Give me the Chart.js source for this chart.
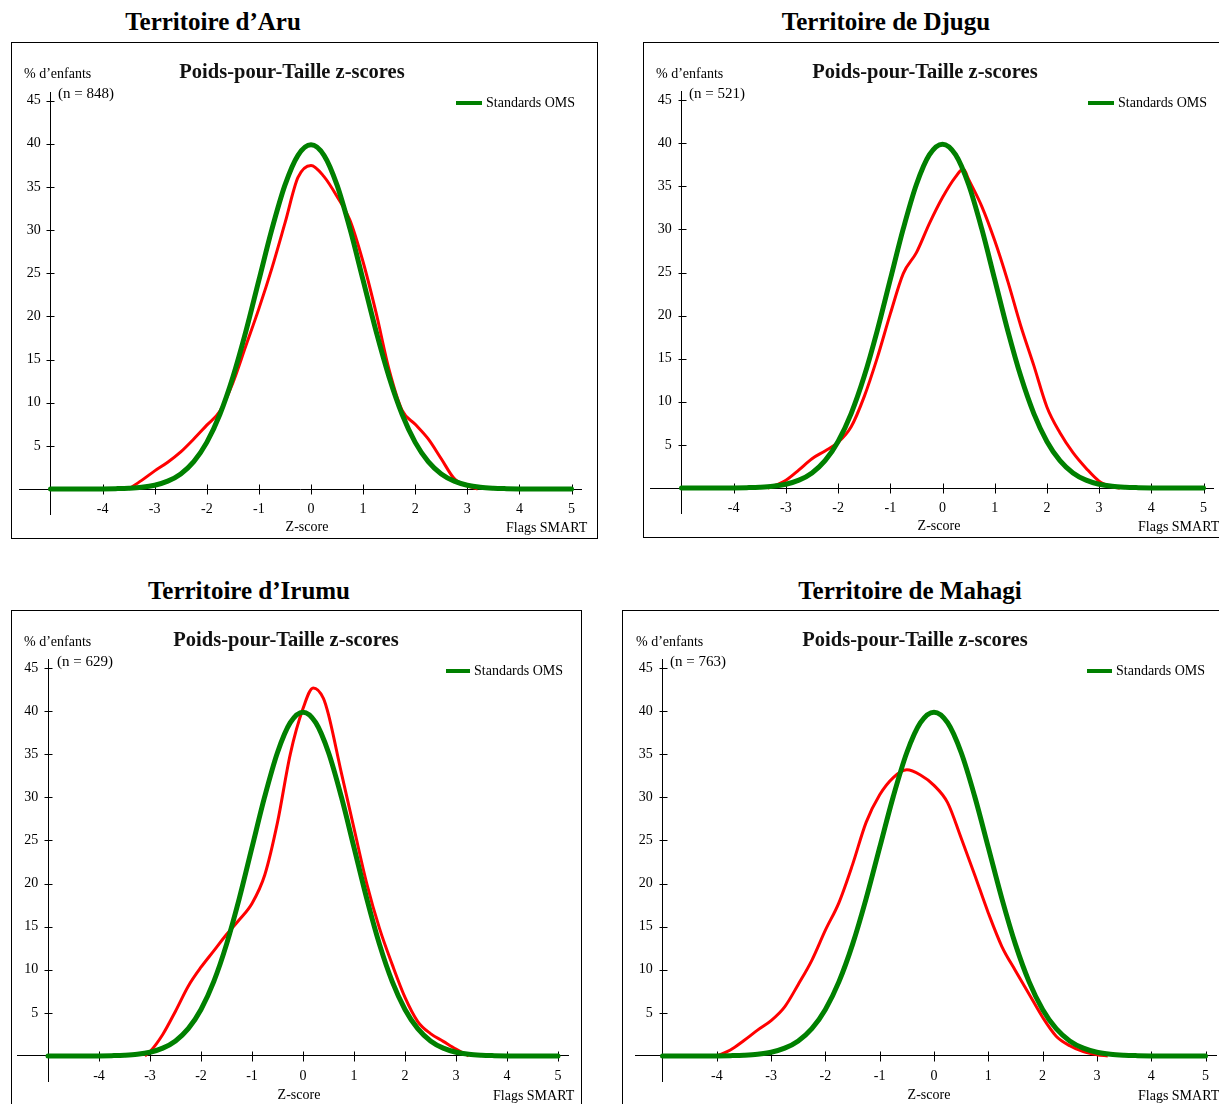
<!DOCTYPE html>
<html>
<head>
<meta charset="utf-8">
<script src="https://cdn.jsdelivr.net/npm/chart.js@4.4.0/dist/chart.umd.min.js"></script>
<style>
  body { margin: 0; width: 1219px; height: 1104px; overflow: hidden; background: #fff; position: relative; font-family: "Liberation Serif", "Times New Roman", serif; color: #000; }
  .t { position: absolute; white-space: nowrap; }
  .ptitle { font-weight: bold; font-size: 25px; line-height: 30px; height: 30px; width: 400px; text-align: center; }
  .panel { position: absolute; border: 1px solid #000; box-sizing: border-box; overflow: hidden; background: #fff; }
  .panel canvas { position: absolute; left: 0; top: 0; }
  .ctitle { font-weight: bold; font-size: 20.5px; line-height: 24px; width: 300px; text-align: center; color: #111; }
  .lbl { font-size: 14px; line-height: 20px; }
  .n { font-size: 15px; line-height: 20px; }
  .leg { position: absolute; height: 4px; background: #008000; }
</style>
</head>
<body>
<script>
// ---- data ----
const territories = ['Territoire d\u2019Aru', 'Territoire de Djugu', 'Territoire d\u2019Irumu', 'Territoire de Mahagi'];
const sampleSizes = [848, 521, 629, 763];

const xTicks = [-4, -3, -2, -1, 0, 1, 2, 3, 4, 5];
const yTicks = [5, 10, 15, 20, 25, 30, 35, 40, 45];

// WHO standard curve (% of children per z-score)
const stdZ = [-5, -4.75, -4.5, -4.25, -4, -3.75, -3.5, -3.25, -3, -2.75, -2.5, -2.25, -2, -1.75, -1.5, -1.25, -1, -0.75, -0.5, -0.25,
  0, 0.25, 0.5, 0.75, 1, 1.25, 1.5, 1.75, 2, 2.25, 2.5, 2.75, 3, 3.25, 3.5, 3.75, 4, 4.25, 4.5, 4.75, 5];
const stdPct = [0, 0, 0, 0, 0.01, 0.04, 0.09, 0.2, 0.44, 0.91, 1.75, 3.17, 5.4, 8.63, 12.95, 18.26, 24.2, 30.11, 35.21, 38.67,
  39.89, 38.67, 35.21, 30.11, 24.2, 18.26, 12.95, 8.63, 5.4, 3.17, 1.75, 0.91, 0.44, 0.2, 0.09, 0.04, 0.01, 0, 0, 0, 0];

// survey curves
const aruZ = [-3.5, -3.25, -3, -2.75, -2.5, -2.25, -2, -1.75, -1.5, -1.25, -1, -0.75, -0.5, -0.25, 0, 0.25, 0.5, 0.75, 1, 1.25, 1.5, 1.75, 2, 2.25, 2.5, 2.75, 3, 3.2];
const aruPct = [0, 1.0, 2.1, 3.1, 4.3, 5.8, 7.4, 9.0, 12.3, 16.6, 20.9, 25.6, 30.8, 36.1, 37.5, 36.2, 33.9, 31.1, 26.3, 20.4, 13.8, 9.1, 7.5, 5.8, 3.5, 1.2, 0.35, 0];

const djuguZ = [-3.35, -3.25, -3, -2.75, -2.5, -2.25, -2, -1.75, -1.5, -1.25, -1, -0.75, -0.5, -0.25, 0, 0.25, 0.4, 0.5, 0.75, 1, 1.25, 1.5, 1.75, 2, 2.25, 2.5, 2.75, 3, 3.25, 3.4];
const djuguPct = [0, 0.2, 0.9, 2.1, 3.4, 4.3, 5.3, 7.1, 10.6, 15.1, 20.2, 24.9, 27.3, 30.7, 33.7, 36.1, 37.0, 35.8, 32.7, 28.7, 24.0, 18.8, 14.2, 9.4, 6.4, 4.1, 2.3, 0.8, 0.15, 0];

const irumuZ = [-3.1, -3, -2.75, -2.5, -2.25, -2, -1.75, -1.5, -1.25, -1, -0.75, -0.5, -0.25, 0, 0.2, 0.4, 0.5, 0.75, 1, 1.25, 1.5, 1.75, 2, 2.25, 2.5, 2.75, 3, 3.25];
const irumuPct = [0, 0.5, 2.5, 5.2, 8.1, 10.3, 12.2, 14.1, 15.8, 17.7, 21.0, 27.1, 35.0, 40.3, 42.7, 41.5, 39.6, 32.9, 26.4, 20.0, 14.8, 10.6, 6.8, 4.0, 2.6, 1.7, 0.8, 0];

const mahagiZ = [-4, -3.75, -3.5, -3.25, -3, -2.75, -2.5, -2.25, -2, -1.75, -1.5, -1.25, -1, -0.75, -0.5, -0.25, 0, 0.25, 0.5, 0.75, 1, 1.25, 1.5, 1.75, 2, 2.25, 2.5, 2.75, 3, 3.2];
const mahagiPct = [0, 0.7, 1.8, 3.0, 4.1, 5.7, 8.3, 11.1, 14.6, 17.8, 22.2, 27.1, 30.3, 32.3, 33.2, 32.6, 31.4, 29.4, 25.3, 21.0, 16.6, 12.7, 9.9, 7.2, 4.5, 2.3, 1.2, 0.5, 0.15, 0];

const surveyZ = [aruZ, djuguZ, irumuZ, mahagiZ];
const surveyPct = [aruPct, djuguPct, irumuPct, mahagiPct];

// ---- layout (page pixels) ----
const layouts = [
  { head: 213, headY: 22, box: { l: 11, t: 42, w: 587, h: 497 }, x0: 311, xs: 52.1, y0: 489, ys: 8.63, xMin: -5.6,
    title: 292, titleY: 71, pctX: 24, pctY: 74, nX: 58, nY: 93, legL: 456, legR: 482, legY: 103, zX: 307, zY: 527, flX: 506, flY: 528 },
  { head: 886, headY: 22, box: { l: 643, t: 42, w: 587, h: 496 }, x0: 942.5, xs: 52.2, y0: 488, ys: 8.62, xMin: -5.6,
    title: 925, titleY: 71, pctX: 656, pctY: 74, nX: 689, nY: 93, legL: 1088, legR: 1114, legY: 103, zX: 939, zY: 526, flX: 1138, flY: 527 },
  { head: 249, headY: 591, box: { l: 11, t: 610, w: 571, h: 497 }, x0: 303, xs: 51, y0: 1056, ys: 8.62, xMin: -5.6,
    title: 286, titleY: 639, pctX: 24, pctY: 642, nX: 57, nY: 661, legL: 446, legR: 470, legY: 671, zX: 299, zY: 1095, flX: 493, flY: 1096 },
  { head: 910, headY: 591, box: { l: 622, t: 610, w: 612, h: 497 }, x0: 934, xs: 54.3, y0: 1056, ys: 8.62, xMin: -5.5,
    title: 915, titleY: 639, pctX: 636, pctY: 642, nX: 670, nY: 661, legL: 1087, legR: 1112, legY: 671, zX: 929, zY: 1095, flX: 1138, flY: 1096 }
];
const X_MAX = 5.2, Y_MIN = -3, Y_MAX = 46;

// tick marks that cross the axes, like the original SMART plots
const crossTicks = {
  id: 'crossTicks',
  beforeDatasetsDraw(chart) {
    const { ctx, scales: { x, y } } = chart;
    const ax = Math.round(x.getPixelForValue(-5)) + 0.5;
    const ay = Math.round(y.getPixelForValue(0)) + 0.5;
    ctx.save();
    ctx.strokeStyle = '#000';
    ctx.lineWidth = 1;
    ctx.beginPath();
    xTicks.forEach(v => {
      const px = Math.round(x.getPixelForValue(v)) + 0.5;
      ctx.moveTo(px, ay - 5);
      ctx.lineTo(px, ay + 5);
    });
    yTicks.forEach(v => {
      const py = Math.round(y.getPixelForValue(v)) + 0.5;
      ctx.moveTo(ax - 4, py);
      ctx.lineTo(ax + 4, py);
    });
    ctx.stroke();
    ctx.restore();
  }
};

function addText(parent, cls, text, left, top, extra) {
  const d = document.createElement('div');
  d.className = 't ' + cls;
  d.textContent = text;
  d.style.left = left + 'px';
  d.style.top = top + 'px';
  if (extra) Object.assign(d.style, extra);
  parent.appendChild(d);
  return d;
}

layouts.forEach((p, i) => {
  // heading above the frame
  addText(document.body, 'ptitle', territories[i], p.head - 200, p.headY - 15);

  const panel = document.createElement('div');
  panel.className = 'panel';
  Object.assign(panel.style, { left: p.box.l + 'px', top: p.box.t + 'px', width: p.box.w + 'px', height: p.box.h + 'px' });
  document.body.appendChild(panel);

  const ox = p.box.l + 1, oy = p.box.t + 1;
  const w = p.box.w - 2, h = p.box.h - 2;
  const canvas = document.createElement('canvas');
  canvas.width = w; canvas.height = h;
  canvas.style.width = w + 'px'; canvas.style.height = h + 'px';
  panel.appendChild(canvas);

  // texts inside the frame
  addText(panel, 'ctitle', 'Poids-pour-Taille z-scores', p.title - ox - 150, p.titleY - oy - 12);
  addText(panel, 'lbl', '% d\u2019enfants', p.pctX - ox, p.pctY - oy - 10, { fontSize: '14px' });
  addText(panel, 'n', '(n = ' + sampleSizes[i] + ')', p.nX - ox, p.nY - oy - 10);
  const leg = document.createElement('div');
  leg.className = 'leg';
  Object.assign(leg.style, { left: (p.legL - ox) + 'px', width: (p.legR - p.legL) + 'px', top: (p.legY - oy - 2) + 'px' });
  panel.appendChild(leg);
  addText(panel, 'lbl', 'Standards OMS', p.legR + 4 - ox, p.legY - oy - 10);
  addText(panel, 'lbl', 'Z-score', p.zX - ox - 50, p.zY - oy - 10, { width: '100px', textAlign: 'center' });
  addText(panel, 'lbl', 'Flags SMART', p.flX - ox, p.flY - oy - 10);

  const left = p.x0 + p.xMin * p.xs - ox;
  const right = p.x0 + X_MAX * p.xs - ox;
  const top = p.y0 - Y_MAX * p.ys - oy;
  const bottom = p.y0 - Y_MIN * p.ys - oy;

  const font = { family: '"Liberation Serif", serif', size: 14 };

  new Chart(canvas.getContext('2d'), {
    type: 'line',
    data: {
      datasets: [
        {
          label: 'Standards OMS',
          data: stdZ.map((z, k) => ({ x: z, y: stdPct[k] })),
          borderColor: '#008000',
          borderWidth: 5,
          pointRadius: 0,
          cubicInterpolationMode: 'monotone',
          borderCapStyle: 'round',
          borderJoinStyle: 'round',
          fill: false
        },
        {
          label: territories[i],
          data: surveyZ[i].map((z, k) => ({ x: z, y: surveyPct[i][k] })),
          borderColor: '#ff0000',
          borderWidth: 3,
          pointRadius: 0,
          cubicInterpolationMode: 'monotone',
          borderJoinStyle: 'round',
          fill: false
        }
      ]
    },
    options: {
      responsive: false,
      animation: false,
      devicePixelRatio: 1,
      layout: { padding: { left: left, right: w - right, top: top, bottom: h - bottom } },
      plugins: { legend: { display: false }, title: { display: false }, tooltip: { enabled: false } },
      scales: {
        x: {
          type: 'linear', min: p.xMin, max: X_MAX, position: { y: 0 },
          afterBuildTicks: s => { s.ticks = xTicks.map(v => ({ value: v })); },
          grid: { display: true, drawOnChartArea: false, drawTicks: false },
          border: { display: true, color: '#000', width: 1 },
          ticks: { font: font, color: '#000', padding: 12, maxRotation: 0, autoSkip: false }
        },
        y: {
          type: 'linear', min: Y_MIN, max: Y_MAX, position: { x: -5 },
          afterBuildTicks: s => { s.ticks = yTicks.map(v => ({ value: v })); },
          grid: { display: true, drawOnChartArea: false, drawTicks: false },
          border: { display: true, color: '#000', width: 1 },
          // positioned axes ignore padding for the labels, so keep them clear of the axis with a trailing gap
          ticks: { font: font, color: '#000', autoSkip: false, callback: v => v + '\u2002\u2009' }
        }
      }
    },
    plugins: [crossTicks]
  });
});
</script>
</body>
</html>
